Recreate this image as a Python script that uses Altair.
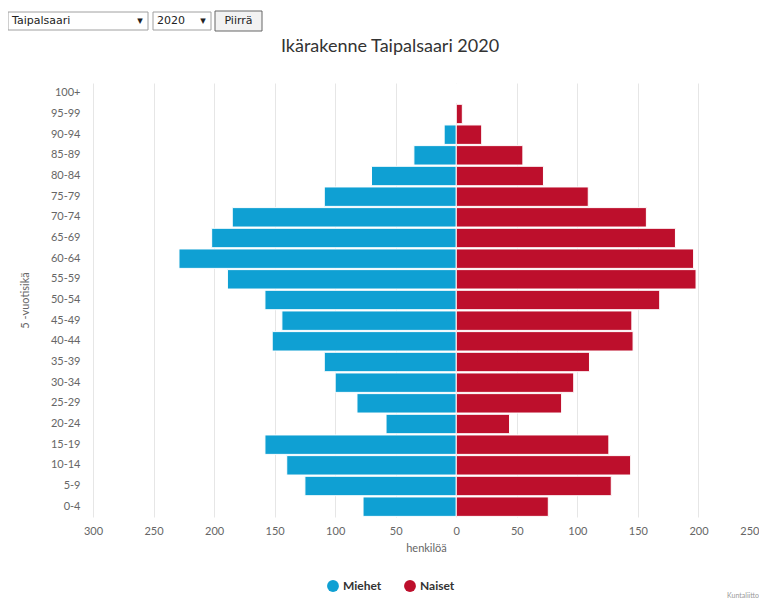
import altair as alt
import pandas as pd

ages = ["0-4", "5-9", "10-14", "15-19", "20-24", "25-29", "30-34", "35-39",
        "40-44", "45-49", "50-54", "55-59", "60-64", "65-69", "70-74", "75-79",
        "80-84", "85-89", "90-94", "95-99", "100+"]
men = [77, 125, 140, 158, 58, 82, 100, 109, 152, 144, 158, 189, 229, 202, 185,
       109, 70, 35, 10, 0, 0]
women = [76, 128, 144, 126, 44, 87, 97, 110, 146, 145, 168, 198, 196, 181, 157,
         109, 72, 55, 21, 5, 0]
series = ["Miehet", "Naiset"]
colors = ["#0fa0d3", "#bd0f2c"]
tick_values = list(range(-300, 251, 50))
title_text = "Ikärakenne Taipalsaari 2020"

rows = []
for a, m, w in zip(ages, men, women):
    rows.append({"age": a, "sex": "Miehet", "value": -m})
    rows.append({"age": a, "sex": "Naiset", "value": w})
df = pd.DataFrame(rows)

FONT = "Lato"
W, H = 666, 434

bars = alt.Chart(df).mark_bar(stroke="white", strokeWidth=1).encode(
    x=alt.X("value:Q",
            scale=alt.Scale(domain=[-300, 250], nice=False, zero=False),
            axis=alt.Axis(values=tick_values,
                          labelExpr="format(abs(datum.value), 'd')",
                          title="henkilöä", grid=True, gridColor="#e6e6e6",
                          domain=False, ticks=False, labelPadding=8,
                          labelColor="#666", labelFontSize=11, labelFont=FONT,
                          titleColor="#666", titleFontSize=11, titleFont=FONT,
                          titleFontWeight="normal", titlePadding=6,
                          labelAlign=alt.condition("datum.value == 250",
                                                   alt.value("right"),
                                                   alt.value("center")))),
    y=alt.Y("age:N", sort=list(reversed(ages)),
            scale=alt.Scale(paddingInner=0.06, paddingOuter=0.03),
            axis=alt.Axis(title="5 -vuotisikä", domain=False, ticks=False,
                          grid=False, labelPadding=13, labelColor="#666",
                          labelFontSize=11, labelFont=FONT,
                          titleColor="#666", titleFontSize=11, titleFont=FONT,
                          titleFontWeight="normal", titleX=-63)),
    color=alt.Color("sex:N", scale=alt.Scale(domain=series, range=colors),
                    legend=alt.Legend(title=None, orient="none",
                                      direction="horizontal",
                                      legendX=234, legendY=497,
                                      symbolType="circle", symbolSize=140,
                                      symbolStrokeWidth=0,
                                      labelFont=FONT, labelFontSize=12,
                                      labelFontWeight="bold",
                                      labelColor="#333", columnPadding=22)),
)

one = pd.DataFrame({"k": [0]})
box_base = alt.Chart(one)

sel1 = box_base.mark_rect(fill="white", stroke="#a0a0a0", strokeWidth=1).encode(
    x=alt.value(-85), x2=alt.value(55), y=alt.value(-71), y2=alt.value(-53))
sel2 = box_base.mark_rect(fill="white", stroke="#a0a0a0", strokeWidth=1).encode(
    x=alt.value(60), x2=alt.value(118), y=alt.value(-71), y2=alt.value(-53))
btn = box_base.mark_rect(fill="#f2f2f2", stroke="#666", strokeWidth=1).encode(
    x=alt.value(122), x2=alt.value(169), y=alt.value(-72), y2=alt.value(-52))

controls = pd.DataFrame({
    "label": ["Taipalsaari", "▾", "2020", "▾", "Piirrä"],
    "px": [-81, 47, 64, 110, 145.5],
    "al": ["left", "center", "left", "center", "center"],
})
ctl_text = []
for lab, px, al in zip(controls["label"], controls["px"], controls["al"]):
    ctl_text.append(
        alt.Chart(pd.DataFrame({"t": [lab]})).mark_text(
            align=al, baseline="middle", font="DejaVu Sans", fontSize=11,
            color="#222").encode(text="t:N", x=alt.value(px), y=alt.value(-62)))

title = alt.Chart(pd.DataFrame({"t": [title_text]})).mark_text(
    align="center", baseline="middle", font=FONT, fontSize=18, color="#333"
).encode(text="t:N", x=alt.value(297), y=alt.value(-36))

footer = alt.Chart(pd.DataFrame({"t": ["Kuntaliitto"]})).mark_text(
    align="right", baseline="bottom", font=FONT, fontSize=7, color="#999"
).encode(text="t:N", x=alt.value(666), y=alt.value(H + 82))

chart = alt.layer(bars, sel1, sel2, btn, *ctl_text, title, footer).properties(
    width=W, height=H,
    autosize=alt.AutoSizeParams(type="none"),
    padding={"left": 85, "top": 75, "right": 0, "bottom": 85},
).configure_view(stroke=None)

chart.save("out.html", embed_options={"renderer": "svg", "actions": False})
